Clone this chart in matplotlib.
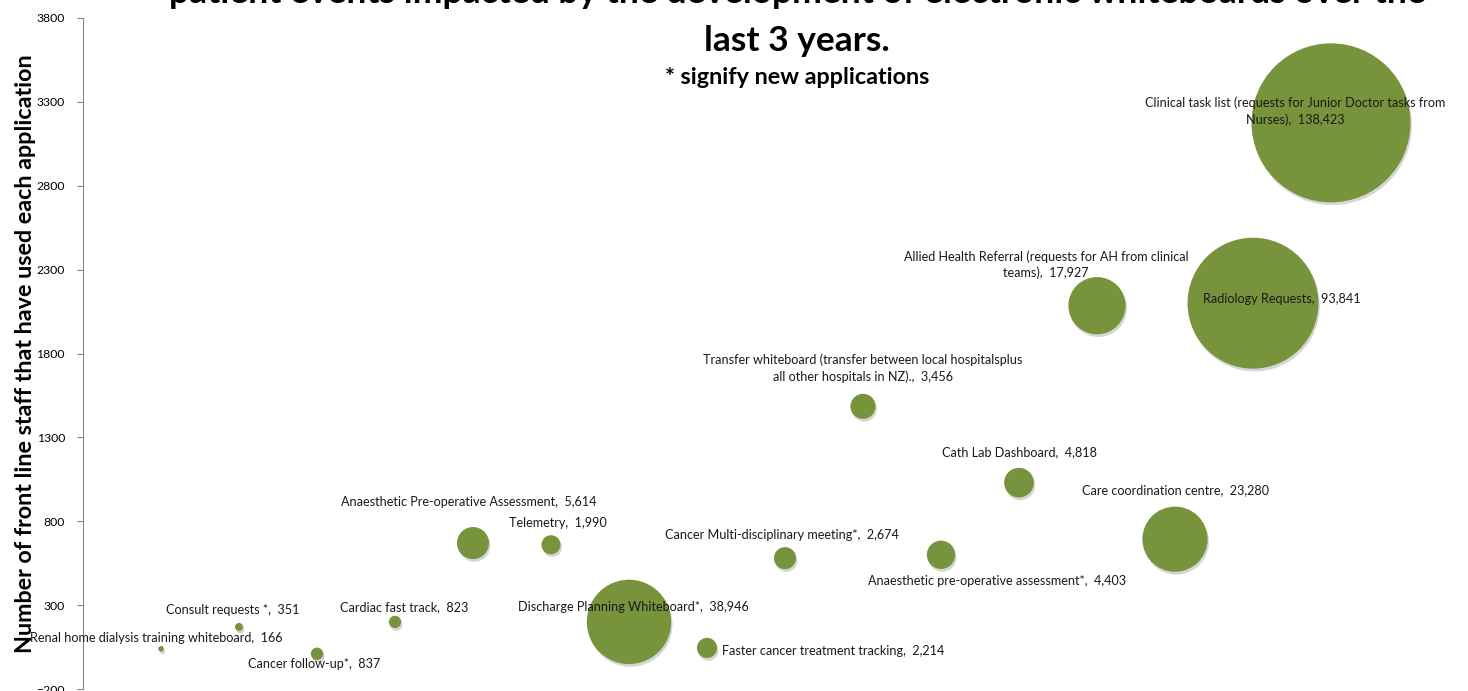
import numpy as np
import matplotlib.pyplot as plt
import matplotlib.patheffects as pe

# applications, in the order they sit along the chart
apps = [
    'Renal home dialysis training whiteboard',
    'Consult requests *',
    'Cancer follow-up*',
    'Cardiac fast track',
    'Anaesthetic Pre-operative Assessment',
    'Telemetry',
    'Discharge Planning Whiteboard*',
    'Faster cancer treatment tracking',
    'Cancer Multi-disciplinary meeting*',
    'Transfer whiteboard (transfer between local hospitalsplus\nall other hospitals in NZ).',
    'Anaesthetic pre-operative assessment*',
    'Cath Lab Dashboard',
    'Allied Health Referral (requests for AH from clinical\nteams)',
    'Care coordination centre',
    'Radiology Requests',
    'Clinical task list (requests for Junior Doctor tasks from\nNurses)',
]
# number of front line staff using each app (y)
staff = [40, 170, 10, 200, 670, 660, 200, 45, 580, 1485, 600, 1030, 2085, 693, 2100, 3175]
# patient events impacted (bubble size)
events = [166, 351, 837, 823, 5614, 1990, 38946, 2214, 2674, 3456, 4403, 4818, 17927, 23280, 93841, 138423]

yticks = [-200, 300, 800, 1300, 1800, 2300, 2800, 3300, 3800]

# label offsets from bubble centre in pixels (dx, dy up) and alignment
label_pos = [
    (-5, 11, 'center'), (-6, 17, 'center'), (-3, -10, 'center'), (9, 15, 'center'),
    (-4, 41, 'center'), (7, 22, 'center'), (4, 15, 'center'), (15, -3, 'left'),
    (-3, 23, 'center'), (0, 38, 'center'), (56, -26, 'center'), (0, 31, 'center'),
    (-51, 41, 'center'), (1, 49, 'center'), (29, 4, 'center'), (-36, 12, 'center'),
]

green = '#77933C'
dpi = 100
fig = plt.figure(figsize=(14.68, 6.91), dpi=dpi)
ax = fig.add_axes([83 / 1468, 2 / 691, 1 - 83 / 1468, (689 - 18) / 691])

x = np.arange(1, len(apps) + 1)
ev = np.array(events, dtype=float)
max_diam_px = 159
sizes = (max_diam_px * 72 / dpi) ** 2 * ev / ev.max()

ax.scatter(x, staff, s=sizes, color=green, edgecolors='none', zorder=2,
           path_effects=[pe.SimplePatchShadow(offset=(1, -2), shadow_rgbFace='0.55', alpha=0.35),
                         pe.Normal()])

for xi, yi, name, val, (dx, dy, ha) in zip(x, staff, apps, events, label_pos):
    ax.annotate(f'{name},  {val:,}', (xi, yi), xytext=(dx, dy), textcoords='offset pixels',
                ha=ha, va='center', multialignment='center', fontsize=9.1, linespacing=1.4,
                family='Lato', color='#1a1a1a', zorder=3)

ax.set_xlim(0, 1385 / 78)
ax.set_ylim(-200, 3800)
ax.set_yticks(yticks)
ax.set_xticks([])
for side in ['top', 'right', 'bottom']:
    ax.spines[side].set_visible(False)
ax.spines['left'].set_color('#868686')
ax.tick_params(axis='y', length=4, width=0.8, color='#868686', pad=9, labelsize=8.8)
for lbl in ax.get_yticklabels():
    lbl.set_family('Lato')

fig.text(26 / 1468, 1 - 354 / 691, 'Number of front line staff that have used each application',
         rotation=90, ha='center', va='center', fontsize=16.8, fontweight='bold', family='Lato')

# title (top line runs off the top of the picture)
fig.text(797 / 1468, 1 - (-7) / 691,
         'patient events impacted by the development of electronic whiteboards over the',
         ha='center', va='center', fontsize=25.5, fontweight='bold', family='Lato')
fig.text(797 / 1468, 1 - 41 / 691, 'last 3 years.', ha='center', va='center',
         fontsize=25.5, fontweight='bold', family='Lato')
fig.text(797 / 1468, 1 - 77 / 691, '* signify new applications', ha='center', va='center',
         fontsize=16.8, fontweight='bold', family='Lato')

fig.savefig('out.png', dpi=dpi)
